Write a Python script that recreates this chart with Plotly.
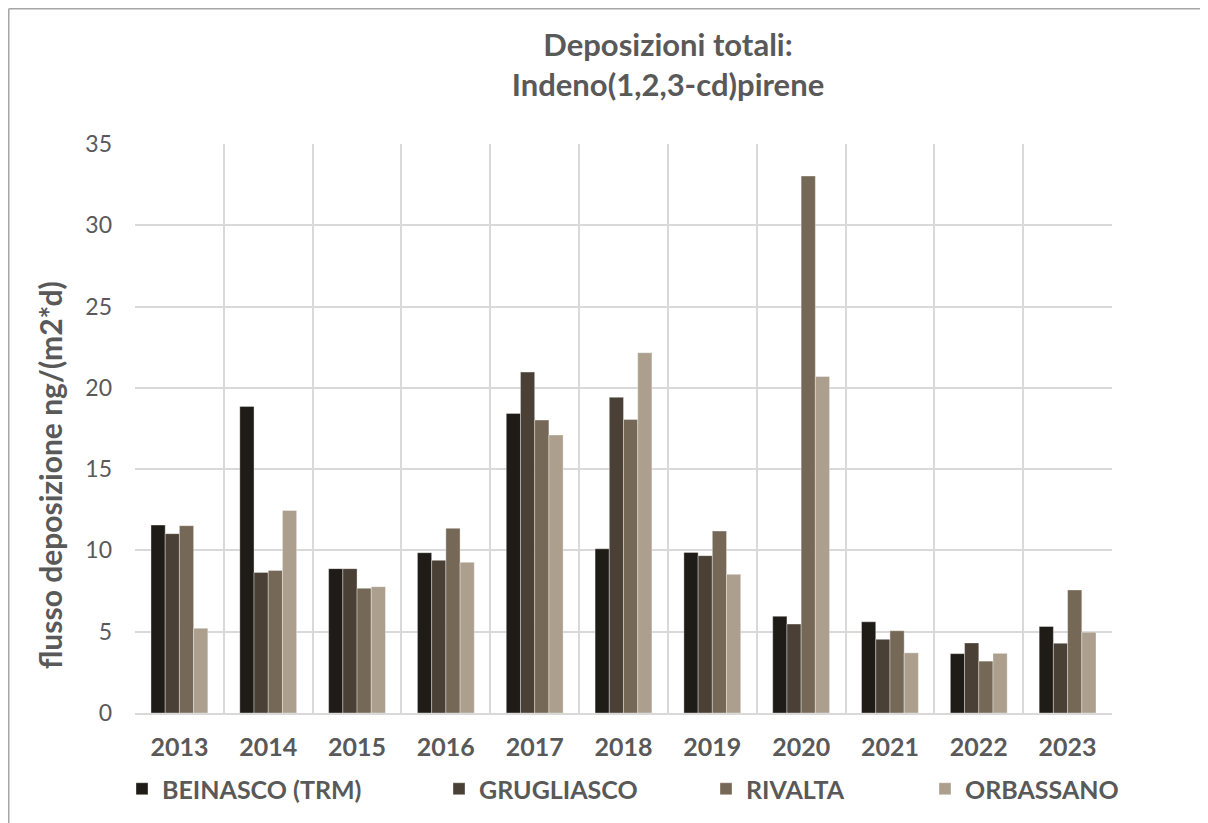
import plotly.graph_objects as go

# Years on the x axis
years = ["2013", "2014", "2015", "2016", "2017", "2018", "2019", "2020", "2021", "2022", "2023"]

# Total deposition flux, ng/(m2*d), per station
beinasco = [11.56, 18.86, 8.88, 9.86, 18.43, 10.10, 9.88, 5.95, 5.61, 3.65, 5.32]
grugliasco = [11.03, 8.65, 8.88, 9.39, 20.97, 19.42, 9.68, 5.47, 4.53, 4.31, 4.29]
rivalta = [11.52, 8.77, 7.67, 11.36, 18.02, 18.06, 11.19, 33.03, 5.06, 3.19, 7.57]
orbassano = [5.21, 12.46, 7.77, 9.27, 17.10, 22.16, 8.53, 20.70, 3.70, 3.67, 4.97]

names = ["BEINASCO (TRM)", "GRUGLIASCO", "RIVALTA", "ORBASSANO"]
colors = ["#1F1C17", "#4A4035", "#766856", "#AC9F8E"]
series = [beinasco, grugliasco, rivalta, orbassano]

# the page adds an 8px body margin, so the figure is 8px smaller each way
W, H = 1200, 815
FONT = "Lato"
GREY = "#595959"

fig = go.Figure()

legends = ["legend", "legend2", "legend3", "legend4"]
for name, vals, col, lg in zip(names, series, colors, legends):
    fig.add_trace(go.Bar(
        name=name, x=years, y=vals, legend=lg, showlegend=True,
        marker=dict(color=col, line=dict(color="rgba(255,255,255,0.45)", width=0.8)),
    ))

# one legend per entry so the spacing matches the original
legend_x = [114, 431, 698, 917]
layout_legends = {}
for lg, lx in zip(legends, legend_x):
    layout_legends[lg] = dict(
        xref="container", yref="container",
        x=lx / W, y=1 - 781 / H, xanchor="left", yanchor="middle",
        orientation="h", bgcolor="rgba(0,0,0,0)",
        font=dict(family=FONT, size=25, color=GREY, weight="bold"),
        itemwidth=30,
    )

fig.update_layout(
    width=W, height=H,
    paper_bgcolor="white", plot_bgcolor="white",
    margin=dict(l=127, r=W - 1104, t=136, b=H - 705),
    barmode="group", bargap=0.36, bargroupgap=0,
    showlegend=True,
    title=dict(
        text="Deposizioni totali:<br>Indeno(1,2,3-cd)pirene",
        xref="container", yref="container",
        x=660 / W, xanchor="center", y=1 - 47.5 / H, yanchor="middle",
        font=dict(family=FONT, size=31, color=GREY, weight="bold"),
    ),
    xaxis=dict(
        type="category", tickson="boundaries", automargin=False,
        showgrid=True, gridcolor="#D9D9D9", gridwidth=1.5,
        showline=True, linecolor="#D9D9D9", linewidth=1.5,
        ticks="", ticklabelstandoff=11,
        tickfont=dict(family=FONT, size=25, color=GREY, weight="bold"),
    ),
    yaxis=dict(
        range=[0, 35], dtick=5, automargin=False,
        showgrid=True, gridcolor="#D9D9D9", gridwidth=1.5,
        zeroline=False, ticks="", ticklabelstandoff=22,
        tickfont=dict(family=FONT, size=23, color=GREY),
    ),
    **layout_legends,
)

# y axis title sits lower than the plot centre in the original
fig.add_annotation(
    text="flusso deposizione ng/(m2*d)", textangle=-90, showarrow=False,
    xref="paper", yref="paper",
    x=(42 - 127) / 977, y=(705 - 467) / 569, xanchor="center", yanchor="middle",
    font=dict(family=FONT, size=30, color=GREY, weight="bold"),
)

# outer chart frame (top and left edges visible in the original)
fig.add_shape(type="line", xref="paper", yref="paper",
              x0=(0.75 - 127) / 977, x1=(1210 - 127) / 977,
              y0=(705 - 0.75) / 569, y1=(705 - 0.75) / 569,
              line=dict(color="#A6A6A6", width=1.5))
fig.add_shape(type="line", xref="paper", yref="paper",
              x0=(0.75 - 127) / 977, x1=(0.75 - 127) / 977,
              y0=(705 - 0.75) / 569, y1=(705 - 830) / 569,
              line=dict(color="#A6A6A6", width=1.5))

fig.write_html("out.html")
